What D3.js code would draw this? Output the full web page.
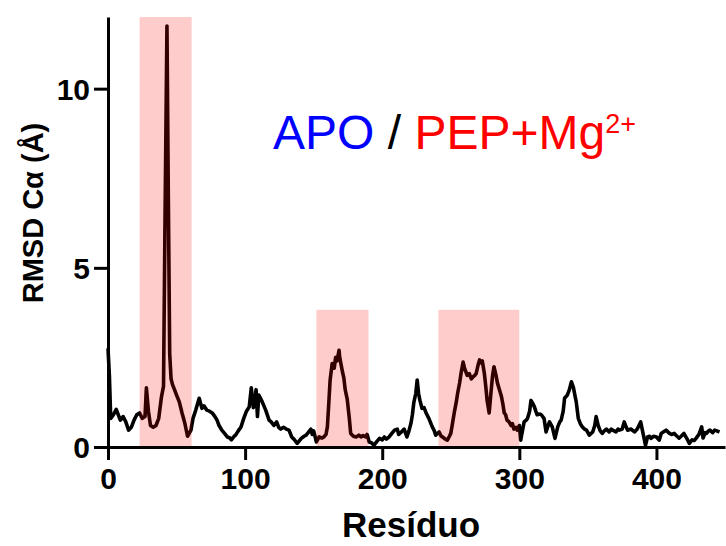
<!DOCTYPE html>
<html>
<head>
<meta charset="utf-8">
<script src="https://cdn.jsdelivr.net/npm/d3@7"></script>
<style>
  body { margin: 0; background: #fff; }
  svg { display: block; }
  .tick text { font-family: "Liberation Sans", Arial, sans-serif; font-weight: bold; font-size: 30px; }
</style>
</head>
<body>
<svg width="726" height="546"></svg>
<script>
// RMSD por resíduo
var residues = [0, 1, 2, 4, 6, 8, 9, 11, 13, 15, 17, 19, 21, 23, 25, 27, 28, 29.5, 31, 33, 35, 37, 39,
  40.5, 41.5, 43, 44, 45, 46, 47, 48.5, 50, 52, 54, 56, 58, 60.5, 62, 64, 66.5, 68.5, 70, 72, 74, 76, 78,
  79.5, 81, 83, 85, 87, 89, 90, 92, 93, 95, 97, 99, 101, 103, 104.5, 106, 107, 108, 109, 110, 112.5, 115,
  117.5, 119, 121, 123, 124.5, 126, 128, 130, 132, 134, 136, 138, 141, 143, 144.5, 146, 148, 149, 150, 152,
  154, 156, 157.5, 159, 160, 161, 162, 163.5, 165, 166, 167, 168.5, 169, 170, 171, 172, 173, 174.5, 176,
  177, 179, 181, 183, 184.5, 186, 188, 189, 190.5, 192, 194, 196, 198, 200, 201.5, 203, 205, 207, 209, 211,
  212, 214, 216, 218, 219.5, 221, 222, 223, 224.5, 225.5, 226.5, 227.5, 229, 230.5, 232, 234, 236.5, 238,
  239, 241.5, 243, 244, 246, 247.5, 249, 250, 251, 252.5, 254, 255, 256.5, 257.5, 259, 260, 261, 262,
  263.5, 265, 266, 267.5, 268.5, 270, 271, 272, 273, 274.5, 275.5, 276.5, 278, 279.5, 280.5, 281.5, 283,
  284, 285.5, 287, 288, 289, 290, 291, 292.5, 294, 295, 296, 297.5, 298.5, 300, 301, 302.5, 303.5, 305,
  306, 307.5, 308.5, 310, 311, 312, 313, 315, 316, 318, 319.5, 321, 322, 324, 326, 328, 329.5, 330.5, 332,
  333, 335, 336.5, 338, 339.5, 340.5, 341.5, 343, 344.5, 346, 347.5, 349, 351, 353.5, 355, 356, 357.5,
  359, 360.5, 362, 363.5, 365.5, 367, 368, 370.5, 372, 373, 375, 376.5, 378, 379, 381.5, 383, 384, 386,
  388.5, 390, 392, 393.5, 395, 396, 398, 400, 402, 403.5, 405, 407, 409.5, 411, 413, 415, 416.5, 418, 420,
  422, 424, 426, 427.5, 429, 431, 433, 434, 435.5, 436.5, 438, 439, 441, 442.5, 444, 446];

var rmsd = [2.75, 2.0, 0.8, 0.9, 1.05, 0.85, 0.75, 0.85, 0.7, 0.47, 0.55, 0.75, 0.9, 0.95, 0.8, 0.85, 1.65, 1.0, 0.6, 0.55, 0.6, 0.8, 1.4,
  1.7, 6.0, 11.75, 7.0, 2.6, 1.9, 1.75, 1.6, 1.45, 1.26, 0.95, 0.67, 0.3, 0.47, 0.8, 1.03, 1.36, 1.08, 1.15, 1.03, 1.0, 0.95, 0.85,
  0.75, 0.6, 0.47, 0.38, 0.28, 0.25, 0.2, 0.3, 0.33, 0.45, 0.56, 0.8, 1.0, 1.12, 1.65, 1.1, 1.3, 1.6, 0.85, 1.45, 1.26, 1.03,
  0.75, 0.7, 0.6, 0.7, 0.55, 0.5, 0.55, 0.5, 0.47, 0.28, 0.2, 0.1, 0.24, 0.3, 0.33, 0.4, 0.5, 0.35, 0.45, 0.14,
  0.28, 0.25, 0.28, 0.35, 0.56, 1.2, 1.87, 2.33, 2.2, 2.5, 2.4, 2.7, 2.5, 2.3, 2.1, 1.93, 1.6, 1.33, 0.8,
  0.38, 0.3, 0.28, 0.33, 0.28, 0.32, 0.28, 0.35, 0.14, 0.12, 0.05, 0.15, 0.24, 0.2, 0.28, 0.22, 0.28, 0.38, 0.47, 0.5,
  0.35, 0.42, 0.5, 0.28, 0.45, 0.67, 0.9, 1.23, 1.5, 1.87, 1.5, 1.3, 1.08, 1.1, 0.95, 0.8, 0.56, 0.45,
  0.33, 0.42, 0.3, 0.28, 0.22, 0.19, 0.3, 0.38, 0.6, 0.95, 1.25, 1.5, 1.8, 2.06, 2.37, 2.2, 2.1, 2.0,
  2.05, 1.9, 1.95, 2.0, 2.05, 2.3, 2.43, 2.35, 2.4, 2.05, 1.7, 1.3, 0.95, 1.6, 2.0, 2.24, 2.0,
  1.79, 1.6, 1.4, 1.2, 0.95, 0.9, 0.75, 0.7, 0.6, 0.65, 0.5, 0.55, 0.47, 0.6, 0.19, 0.5, 0.7, 0.75,
  0.8, 1.0, 1.3, 1.2, 1.12, 1.0, 0.9, 0.92, 0.9, 0.8, 0.42, 0.6, 0.7, 0.56, 0.24, 0.56, 0.7, 0.75, 1.0,
  1.36, 1.45, 1.6, 1.82, 1.65, 1.45, 1.26, 0.8, 0.65, 0.56, 0.5, 0.47, 0.33, 0.42, 0.6, 0.85, 0.6,
  0.45, 0.38, 0.45, 0.5, 0.42, 0.5, 0.47, 0.42, 0.5, 0.47, 0.5, 0.7, 0.55, 0.47, 0.5, 0.45, 0.42, 0.5,
  0.7, 0.42, 0.05, 0.28, 0.3, 0.24, 0.3, 0.28, 0.19, 0.38, 0.42, 0.47, 0.38, 0.35, 0.38, 0.3, 0.25, 0.3, 0.38,
  0.25, 0.1, 0.2, 0.18, 0.25, 0.35, 0.56, 0.25, 0.4, 0.38, 0.45, 0.47, 0.4, 0.47, 0.45, 0.42];

// regiões destacadas: início, fim, altura
var regionStart = [23, 152, 241];
var regionEnd = [61, 190, 300];
var regionTop = [12, 3.83, 3.83];

var xTicks = [0, 100, 200, 300, 400];
var yTicks = [0, 5, 10];

var data = residues.map(function(r, i) {
  return {res: r, rmsd: rmsd[i]};
});

rmsdChart(data);

function rmsdChart(data) {
  var svg = d3.select("svg");

  var xScale = d3.scaleLinear().domain([0, 450]).range([108, 725]);
  var yScale = d3.scaleLinear().domain([0, 12]).range([447, 17]);

  // linha
  var line = d3.line()
    .x(function(d) { return xScale(d.res); })
    .y(function(d) { return yScale(d.rmsd); });

  svg.append("path")
    .attr("d", line(data))
    .attr("fill", "none")
    .attr("stroke", "#000")
    .attr("stroke-width", 3.6)
    .attr("stroke-linejoin", "round");

  // faixas vermelhas por cima da linha
  svg.selectAll("rect.region")
    .data(regionStart)
    .enter()
    .append("rect")
    .attr("class", "region")
    .attr("x", function(d) { return xScale(d); })
    .attr("width", function(d, i) { return xScale(regionEnd[i]) - xScale(d); })
    .attr("y", function(d, i) { return yScale(regionTop[i]); })
    .attr("height", function(d, i) { return yScale(0) - yScale(regionTop[i]); })
    .attr("fill", "red")
    .attr("fill-opacity", 0.2);

  // eixos
  var xAxis = d3.axisBottom(xScale)
    .tickValues(xTicks)
    .tickSize(13)
    .tickPadding(8)
    .tickSizeOuter(0);

  var xAxisG = svg.append("g")
    .attr("transform", "translate(0," + yScale(0) + ")")
    .call(xAxis);

  var yAxis = d3.axisLeft(yScale)
    .tickValues(yTicks)
    .tickSize(14)
    .tickPadding(4)
    .tickSizeOuter(0);

  var yAxisG = svg.append("g")
    .attr("transform", "translate(" + xScale(0) + ",0)")
    .call(yAxis);

  [xAxisG, yAxisG].forEach(function(g) {
    g.select(".domain").attr("stroke", "#000").attr("stroke-width", 3);
    g.selectAll(".tick line").attr("stroke", "#000").attr("stroke-width", 3);
    g.selectAll(".tick text").attr("fill", "#000");
  });
  yAxisG.selectAll(".tick text").attr("dy", "0.36em");

  // títulos dos eixos
  svg.append("text")
    .attr("x", 411)
    .attr("y", 537)
    .attr("text-anchor", "middle")
    .style("font-family", "Liberation Sans, Arial, sans-serif")
    .style("font-weight", "bold")
    .style("font-size", "35px")
    .text("Resíduo");

  svg.append("text")
    .attr("transform", "translate(43,213) rotate(-90)")
    .attr("text-anchor", "middle")
    .style("font-family", "Liberation Sans, Arial, sans-serif")
    .style("font-weight", "bold")
    .style("font-size", "29px")
    .text("RMSD Cα (Å)");

  // legenda
  var label = svg.append("text")
    .attr("x", 273)
    .attr("y", 149)
    .style("font-family", "Liberation Sans, Arial, sans-serif")
    .style("font-size", "48px");
  label.append("tspan").attr("fill", "#0000ff").text("APO");
  label.append("tspan").attr("fill", "#000").text(" / ");
  label.append("tspan").attr("fill", "#ff0000").text("PEP+Mg");
  label.append("tspan").attr("fill", "#ff0000")
    .attr("dy", -16)
    .style("font-size", "27px")
    .text("2+");
}
</script>
</body>
</html>
